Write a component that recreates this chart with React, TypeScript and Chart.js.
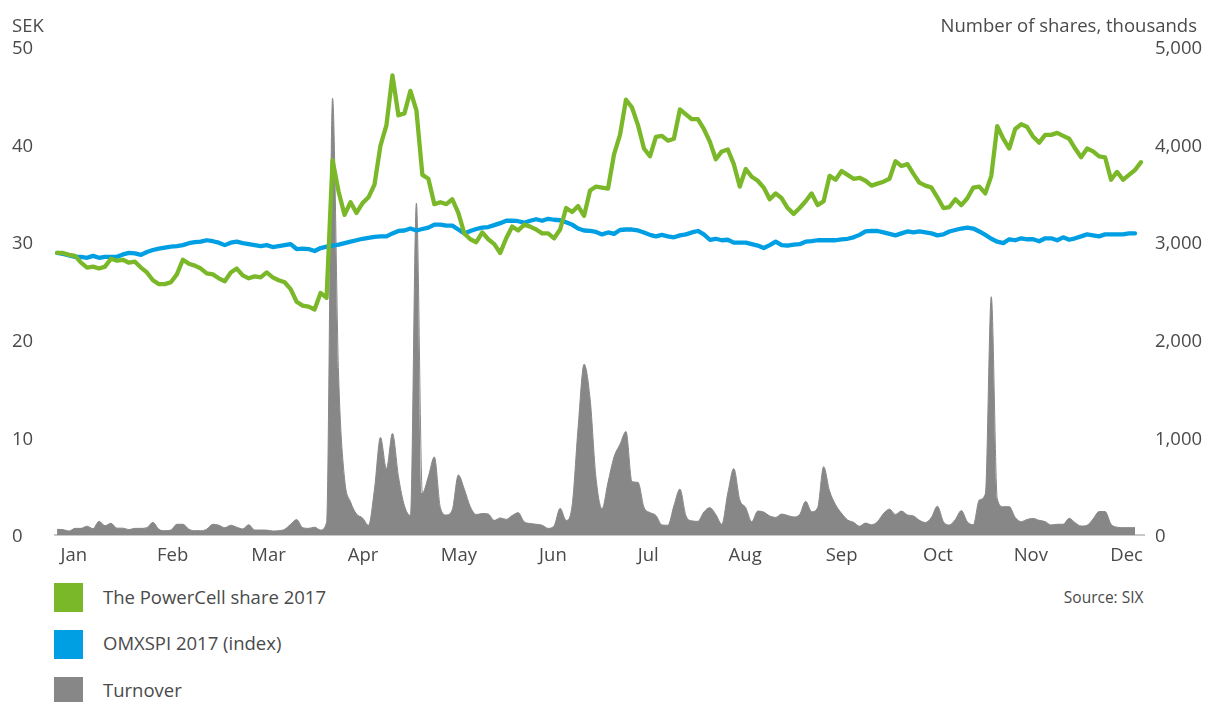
import React, { useEffect, useRef } from "react";
import { Chart, registerables } from "chart.js";

Chart.register(...registerables);

// ---- data (one sample ≈ every 1.4 trading days, Jan–Dec 2017) ----
const MONTHS = ["Jan", "Feb", "Mar", "Apr", "May", "Jun", "Jul", "Aug", "Sep", "Oct", "Nov", "Dec"];
// sample-index position of each month label
const MONTH_TICK_AT = [2.8, 19.3, 35.3, 51.1, 67.1, 82.8, 98.7, 114.9, 131.0, 147.1, 162.6, 178.6];

// The PowerCell share 2017, SEK
const POWERCELL = [
  28.9, 28.9, 28.7, 28.6, 27.9, 27.4, 27.5, 27.3, 27.5, 28.3,
  28.1, 28.2, 27.9, 28.0, 27.4, 26.9, 26.1, 25.7, 25.7, 25.9,
  26.7, 28.2, 27.8, 27.6, 27.3, 26.8, 26.7, 26.3, 26.0, 26.9,
  27.3, 26.6, 26.3, 26.5, 26.4, 26.9, 26.4, 26.1, 25.9, 25.2,
  23.9, 23.5, 23.4, 23.1, 24.8, 24.3, 38.4, 35.2, 32.8, 34.1,
  33.0, 34.0, 34.6, 35.9, 39.9, 42.0, 47.1, 43.0, 43.2, 45.5,
  43.5, 36.9, 36.5, 33.9, 34.1, 33.9, 34.4, 33.0, 30.9, 30.3,
  30.0, 31.0, 30.3, 29.8, 28.9, 30.4, 31.6, 31.2, 31.8, 31.6,
  31.3, 30.9, 30.9, 30.4, 31.3, 33.5, 33.1, 33.7, 32.7, 35.3,
  35.7, 35.6, 35.5, 39.0, 41.0, 44.6, 43.8, 42.0, 39.6, 38.8,
  40.8, 40.9, 40.4, 40.6, 43.6, 43.1, 42.6, 42.6, 41.6, 40.3,
  38.5, 39.3, 39.5, 38.0, 35.7, 37.5, 36.7, 36.3, 35.6, 34.4,
  35.0, 34.5, 33.5, 32.9, 33.5, 34.2, 35.0, 33.8, 34.2, 36.8,
  36.4, 37.3, 36.9, 36.5, 36.6, 36.3, 35.8, 36.0, 36.2, 36.5,
  38.3, 37.8, 38.0, 37.0, 36.1, 35.8, 35.6, 34.6, 33.5, 33.6,
  34.4, 33.8, 34.5, 35.6, 35.7, 35.0, 36.8, 41.9, 40.6, 39.6,
  41.6, 42.1, 41.8, 40.8, 40.2, 41.0, 41.0, 41.2, 40.9, 40.6,
  39.6, 38.7, 39.6, 39.3, 38.8, 38.7, 36.4, 37.2, 36.4, 36.9,
  37.4, 38.2,
];

// OMXSPI 2017 (index), rebased to the SEK scale
const OMXSPI = [
  28.9, 28.8, 28.65, 28.5, 28.5, 28.4, 28.6, 28.4, 28.5, 28.5,
  28.5, 28.75, 28.9, 28.85, 28.7, 29.0, 29.2, 29.35, 29.45, 29.55,
  29.6, 29.7, 29.9, 30.0, 30.05, 30.2, 30.1, 29.95, 29.7, 29.95,
  30.05, 29.9, 29.8, 29.7, 29.6, 29.7, 29.5, 29.6, 29.7, 29.8,
  29.3, 29.35, 29.3, 29.1, 29.4, 29.55, 29.65, 29.75, 29.9, 30.05,
  30.2, 30.35, 30.45, 30.55, 30.6, 30.6, 30.9, 31.15, 31.2, 31.4,
  31.2, 31.35, 31.5, 31.8, 31.8, 31.7, 31.7, 31.3, 30.9, 31.15,
  31.35, 31.5, 31.55, 31.75, 31.95, 32.2, 32.2, 32.15, 32.0, 32.2,
  32.35, 32.2, 32.4, 32.3, 32.25, 32.05, 31.8, 31.4, 31.2, 31.15,
  31.05, 30.8, 31.0, 30.85, 31.25, 31.3, 31.3, 31.2, 31.0, 30.75,
  30.6, 30.75, 30.6, 30.5, 30.7, 30.8, 31.0, 31.15, 30.8, 30.25,
  30.35, 30.2, 30.25, 29.95, 29.95, 29.95, 29.8, 29.65, 29.4, 29.7,
  30.05, 29.7, 29.65, 29.75, 29.8, 30.05, 30.1, 30.2, 30.2, 30.2,
  30.2, 30.3, 30.35, 30.5, 30.75, 31.1, 31.15, 31.15, 31.0, 30.85,
  30.7, 30.9, 31.1, 31.0, 31.1, 31.0, 30.9, 30.7, 30.8, 31.1,
  31.25, 31.4, 31.5, 31.4, 31.1, 30.75, 30.35, 30.05, 29.9, 30.3,
  30.2, 30.4, 30.3, 30.3, 30.1, 30.4, 30.4, 30.2, 30.5, 30.25,
  30.4, 30.6, 30.8, 30.7, 30.6, 30.8, 30.8, 30.8, 30.8, 30.9,
  30.9, null,
];

// Turnover, number of shares (thousands)
const TURNOVER = [
  58, 55, 40, 68, 68, 90, 65, 140, 95, 120,
  70, 70, 55, 68, 68, 75, 130, 58, 44, 50,
  110, 110, 60, 44, 44, 60, 110, 100, 75, 100,
  80, 62, 105, 51, 51, 50, 41, 44, 58, 110,
  158, 75, 68, 80, 51, 130, 4475, 1650, 580, 340,
  215, 175, 100, 470, 1000, 680, 1040, 600, 300, 200,
  3400, 430, 600, 800, 280, 205, 260, 615, 470, 290,
  210, 220, 215, 150, 175, 160, 200, 229, 135, 118,
  110, 100, 68, 95, 273, 150, 300, 1100, 1750, 1400,
  580, 270, 540, 800, 930, 1060, 546, 540, 285, 230,
  200, 103, 100, 300, 470, 200, 145, 140, 235, 280,
  210, 110, 430, 680, 360, 280, 135, 245, 235, 195,
  180, 215, 200, 185, 210, 345, 239, 280, 700, 450,
  310, 222, 154, 130, 90, 122, 105, 137, 220, 265,
  210, 245, 205, 195, 150, 128, 180, 295, 137, 103,
  160, 250, 135, 105, 359, 420, 2441, 370, 290, 290,
  180, 137, 160, 170, 150, 137, 103, 110, 110, 171,
  126, 92, 100, 165, 240, 240, 110, 80, 75, 75,
  75, null,
];

const SEK_MAX = 50;
const SEK_STEP = 10;
const SHARES_MAX = 5000;
const SHARES_STEP = 1000;

const LEGEND = [
  { label: "The PowerCell share 2017", color: "#7ab829" },
  { label: "OMXSPI 2017 (index)", color: "#009fe3" },
  { label: "Turnover", color: "#878787" },
];

const TEXT = "#4a4a4a";
const FONT_FAMILY = "'Open Sans', 'DejaVu Sans', sans-serif";
const FONT_SIZE = 18.5;
const SOURCE_FONT_SIZE = 15.5;

export default function App() {
  const canvasRef = useRef<HTMLCanvasElement | null>(null);

  useEffect(() => {
    let chart: Chart | null = null;
    let cancelled = false;
    const make = () => {
      if (cancelled || !canvasRef.current) return;
      const font = { family: FONT_FAMILY, size: FONT_SIZE };
      chart = new Chart(canvasRef.current, {
        type: "line",
        data: {
          labels: POWERCELL.map((_, i) => i),
          datasets: [
            {
              label: LEGEND[0].label,
              data: POWERCELL,
              yAxisID: "y",
              borderColor: LEGEND[0].color,
              borderWidth: 4.3,
              pointRadius: 0,
              tension: 0,
              fill: false,
              order: 0,
              borderJoinStyle: "round",
              borderCapStyle: "round",
            },
            {
              label: LEGEND[1].label,
              data: OMXSPI,
              yAxisID: "y",
              borderColor: LEGEND[1].color,
              borderWidth: 4.3,
              pointRadius: 0,
              tension: 0,
              fill: false,
              order: 1,
              borderJoinStyle: "round",
              borderCapStyle: "round",
            },
            {
              label: LEGEND[2].label,
              data: TURNOVER,
              yAxisID: "y1",
              borderColor: LEGEND[2].color,
              backgroundColor: LEGEND[2].color,
              borderWidth: 1,
              pointRadius: 0,
              cubicInterpolationMode: "monotone",
              fill: "origin",
              order: 2,
            },
          ],
        },
        options: {
          animation: false,
          responsive: false,
          maintainAspectRatio: false,
          devicePixelRatio: 1,
          layout: { padding: { left: 12, top: 47, right: 0, bottom: 0 } },
          plugins: { legend: { display: false }, tooltip: { enabled: false } },
          scales: {
            x: {
              type: "linear",
              min: -0.35,
              max: POWERCELL.length - 0.5,
              afterBuildTicks: (scale: any) => {
                scale.ticks = MONTH_TICK_AT.map((value) => ({ value }));
              },
              afterFit: (scale: any) => {
                scale.height = 45;
              },
              grid: { display: false, drawTicks: false },
              border: { display: true, color: "#c8c8c8", width: 2 },
              ticks: {
                autoSkip: false,
                maxRotation: 0,
                padding: 10,
                color: TEXT,
                font,
                callback: (_v: any, i: number) => MONTHS[i],
              },
            },
            y: {
              position: "left",
              min: 0,
              max: SEK_MAX,
              afterFit: (scale: any) => {
                scale.width = 43;
              },
              grid: { display: false, drawTicks: false },
              border: { display: false },
              ticks: {
                stepSize: SEK_STEP,
                crossAlign: "far",
                padding: 0,
                labelOffset: 2,
                color: TEXT,
                font,
              },
            },
            y1: {
              position: "right",
              min: 0,
              max: SHARES_MAX,
              afterFit: (scale: any) => {
                scale.width = 61;
              },
              grid: { display: false, drawTicks: false },
              border: { display: false },
              ticks: {
                stepSize: SHARES_STEP,
                padding: 11,
                labelOffset: 2,
                color: TEXT,
                font,
                callback: (v: any) => Number(v).toLocaleString("en-US"),
              },
            },
          },
        },
      } as any);
    };
    if ((document as any).fonts && (document as any).fonts.load) {
      (document as any).fonts.load(`${FONT_SIZE}px "Open Sans"`).then(make, make);
    } else {
      make();
    }
    return () => {
      cancelled = true;
      if (chart) chart.destroy();
    };
  }, []);

  const textStyle: React.CSSProperties = {
    position: "absolute",
    fontFamily: FONT_FAMILY,
    fontSize: FONT_SIZE,
    lineHeight: `${FONT_SIZE}px`,
    color: TEXT,
    whiteSpace: "nowrap",
  };

  return (
    <div
      style={{
        position: "fixed",
        left: 0,
        top: 0,
        width: 1205,
        height: 702,
        overflow: "hidden",
        background: "#ffffff",
      }}
    >
      <canvas
        ref={canvasRef}
        width={1205}
        height={580}
        style={{ position: "absolute", left: 0, top: 0, width: 1205, height: 580 }}
      />
      <div style={{ ...textStyle, left: 12, top: 16 }}>SEK</div>
      <div style={{ ...textStyle, right: 8, top: 16 }}>Number of shares, thousands</div>
      <div
        style={{
          ...textStyle,
          fontSize: SOURCE_FONT_SIZE,
          lineHeight: `${SOURCE_FONT_SIZE}px`,
          right: 61.5,
          top: 589.5,
        }}
      >
        Source: SIX
      </div>
      {LEGEND.map((item, i) => (
        <React.Fragment key={item.label}>
          <div
            style={{
              position: "absolute",
              left: 54,
              top: 583.3 + i * 46.7,
              width: 28.5,
              height: 28.5,
              background: item.color,
            }}
          />
          <div style={{ ...textStyle, left: 103, top: 587.5 + i * 46.7 }}>{item.label}</div>
        </React.Fragment>
      ))}
    </div>
  );
}
